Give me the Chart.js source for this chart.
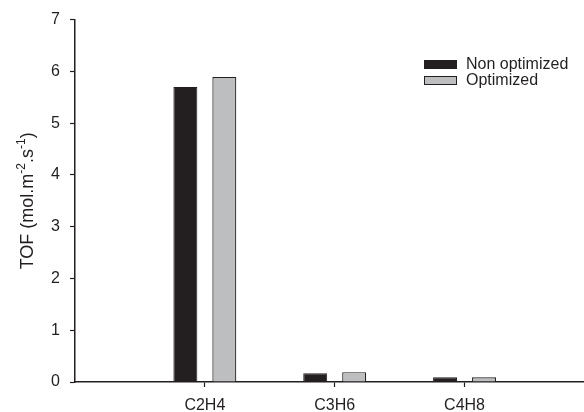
<!DOCTYPE html>
<html>
<head>
<meta charset="utf-8">
<script src="https://cdn.jsdelivr.net/npm/chart.js@4"></script>
<style>
  html, body { margin: 0; padding: 0; background: #fff; }
  #wrap { width: 584px; height: 412px; }
</style>
</head>
<body>
<div id="wrap"><canvas id="c" width="584" height="412"></canvas></div>
<script>
// Turnover frequency per olefin product
const categories = ['C2H4', 'C3H6', 'C4H8'];
const nonOptimized = [5.70, 0.17, 0.09];
const optimized = [5.89, 0.19, 0.09];
const seriesNames = ['Non optimized', 'Optimized'];
const yTicks = [0, 1, 2, 3, 4, 5, 6, 7];

const INK = '#231f20';
const GREY = '#bcbec0';
const FONT = 'Liberation Sans, Arial, sans-serif';

const toPoints = arr => arr.map((v, i) => ({ x: i + 1, y: v }));

// Rotated y-axis title with superscript exponents
const axisTitle = {
  id: 'axisTitle',
  afterDraw(chart) {
    const ctx = chart.ctx;
    const area = chart.chartArea;
    const parts = [
      { t: 'TOF (mol.m', sup: false },
      { t: '-2', sup: true },
      { t: '.s', sup: false },
      { t: '-1', sup: true },
      { t: ')', sup: false }
    ];
    const big = '18px ' + FONT, small = '12px ' + FONT;
    ctx.save();
    let total = 0;
    parts.forEach(p => { ctx.font = p.sup ? small : big; p.w = ctx.measureText(p.t).width; total += p.w; });
    ctx.translate(33, (area.top + area.bottom) / 2);
    ctx.rotate(-Math.PI / 2);
    ctx.fillStyle = INK;
    ctx.textBaseline = 'alphabetic';
    let x = -total / 2;
    parts.forEach(p => {
      ctx.font = p.sup ? small : big;
      ctx.fillText(p.t, x, p.sup ? -8 : 0);
      x += p.w;
    });
    ctx.restore();
  }
};

// Legend box in the upper right of the plot
const boxLegend = {
  id: 'boxLegend',
  afterDraw(chart) {
    const ctx = chart.ctx;
    ctx.save();
    ctx.font = '16px ' + FONT;
    ctx.textBaseline = 'middle';
    chart.data.datasets.forEach((ds, i) => {
      const y = 60 + i * 16;
      ctx.fillStyle = ds.backgroundColor;
      ctx.fillRect(424, y, 33, 9);
      ctx.strokeStyle = INK;
      ctx.lineWidth = 1;
      ctx.strokeRect(424.5, y + 0.5, 32, 8);
      ctx.fillStyle = INK;
      ctx.fillText(ds.label, 466, y + 4.5);
    });
    ctx.restore();
  }
};

new Chart(document.getElementById('c'), {
  type: 'bar',
  data: {
    datasets: [
      { label: seriesNames[0], data: toPoints(nonOptimized), backgroundColor: INK, borderColor: INK, borderWidth: 1 },
      { label: seriesNames[1], data: toPoints(optimized), backgroundColor: GREY, borderColor: INK, borderWidth: 1.2 }
    ]
  },
  options: {
    responsive: false,
    animation: false,
    layout: { padding: { top: 19, right: 0, left: 0, bottom: 0 } },
    categoryPercentage: 0.6,
    barPercentage: 0.615,
    plugins: { legend: { display: false }, tooltip: { enabled: false } },
    scales: {
      x: {
        type: 'linear',
        offset: false,
        min: 0,
        max: 3.92,
        afterFit(s) { s.height = 30; },
        afterBuildTicks(s) { s.ticks = categories.map((_, i) => ({ value: i + 1 })); },
        ticks: {
          autoSkip: false,
          maxRotation: 0,
          padding: 9,
          color: INK,
          font: { family: FONT, size: 16 },
          callback: v => categories[v - 1]
        },
        grid: { drawOnChartArea: false, offset: false, tickLength: 5, tickColor: INK, tickWidth: 1.2 },
        border: { display: true, color: INK, width: 1.5 }
      },
      y: {
        min: 0,
        max: 7,
        afterFit(s) { s.width = 75; },
        afterBuildTicks(s) { s.ticks = yTicks.map(v => ({ value: v })); },
        ticks: {
          padding: 10,
          color: INK,
          font: { family: FONT, size: 16 }
        },
        grid: { drawOnChartArea: false, tickLength: 5, tickColor: INK, tickWidth: 1.2 },
        border: { display: true, color: INK, width: 1.5 }
      }
    }
  },
  plugins: [axisTitle, boxLegend]
});
</script>
</body>
</html>
